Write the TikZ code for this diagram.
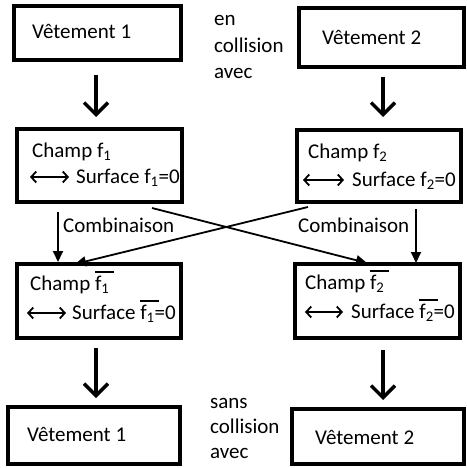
\documentclass[tikz,border=0pt]{standalone}
\usepackage{fontspec}
\setmainfont{Carlito}
\usetikzlibrary{arrows.meta}
\newcommand\fsub[1]{f\textsubscript{#1}}
\newcommand\fbarsub[1]{\makebox[0pt][l]{\rule[17pt]{19pt}{2pt}}f\textsubscript{#1}}
\newcommand\eqz{=0}
\begin{document}
\begin{tikzpicture}[x=1pt,y=-1pt,
 box/.style={draw, line width=4pt, inner sep=0pt},
 txt/.style={anchor=base west, inner sep=0pt, font=\fontsize{21}{25}\selectfont},
 bigarrow/.style={line width=3.5pt, -{Straight Barb[length=12pt,width=24pt]}},
 thinarrow/.style={line width=1.8pt, -{Triangle[length=11pt,width=10pt]}},
 lrarrow/.style={line width=1.8pt, {Straight Barb[length=5pt,width=11pt]}-{Straight Barb[length=5pt,width=11pt]}}]
\useasboundingbox (0,0) rectangle (466,468);
% boxes
\node[box, minimum width=167pt, minimum height=54pt] (A) at (97.5,33) {};
\node[box, minimum width=165pt, minimum height=59pt] (B) at (381.5,37.5) {};
\node[box, minimum width=165pt, minimum height=73pt] (C) at (99.5,165.5) {};
\node[box, minimum width=164pt, minimum height=72pt] (D) at (379,166) {};
\node[box, minimum width=164pt, minimum height=74pt] (E) at (99,301) {};
\node[box, minimum width=165pt, minimum height=74pt] (F) at (377.5,301) {};
\node[box, minimum width=172pt, minimum height=57pt] (G) at (93.5,435.5) {};
\node[box, minimum width=172pt, minimum height=55pt] (H) at (378,436.5) {};
% texts
\node[txt] (tA) at (32,39) {Vêtement 1};
\node[txt] (tB) at (322,45) {Vêtement 2};
\node[txt] (tG) at (27,441) {Vêtement 1};
\node[txt] (tH) at (315,444) {Vêtement 2};
\node[txt] (en1) at (214,26) {en};
\node[txt] (en2) at (214,52.5) {collision};
\node[txt] (en3) at (214,79) {avec};
\node[txt] (sa1) at (210,408) {sans};
\node[txt] (sa2) at (210,433) {collision};
\node[txt] (sa3) at (210,458) {avec};
\node[txt] (cC) at (32,157) {Champ \fsub{1}};
\node[txt] (sC) at (76,183) {Surface \fsub{1}\eqz};
\node[txt] (cD) at (308,158) {Champ \fsub{2}};
\node[txt] (sD) at (352,186) {Surface \fsub{2}\eqz};
\node[txt] (cE) at (30,290) {Champ \fbarsub{1}};
\node[txt] (sE) at (72,319) {Surface \fbarsub{1}\eqz};
\node[txt] (cF) at (305,289) {Champ \fbarsub{2}};
\node[txt] (sF) at (351,318) {Surface \fbarsub{2}\eqz};
\node[txt] (k1) at (63,232) {Combinaison};
\node[txt] (k2) at (298,232) {Combinaison};
% double arrows inside boxes
\coordinate (dC1) at (30,177); \coordinate (dC2) at (69,177);
\coordinate (dD1) at (303,180); \coordinate (dD2) at (344,180);
\coordinate (dE1) at (27,313); \coordinate (dE2) at (66,313);
\coordinate (dF1) at (305,312); \coordinate (dF2) at (343,312);
\draw[lrarrow] (dC1) -- (dC2);
\draw[lrarrow] (dD1) -- (dD2);
\draw[lrarrow] (dE1) -- (dE2);
\draw[lrarrow] (dF1) -- (dF2);
% big arrows
\coordinate (a1) at (96,75);  \coordinate (a2) at (96,117);
\coordinate (b1) at (383,77); \coordinate (b2) at (383,117);
\coordinate (e1) at (96,348); \coordinate (e2) at (96,398);
\coordinate (f1) at (383,350); \coordinate (f2) at (383,400);
\draw[bigarrow] (a1) -- (a2);
\draw[bigarrow] (b1) -- (b2);
\draw[bigarrow] (e1) -- (e2);
\draw[bigarrow] (f1) -- (f2);
% combination arrows
\coordinate (l1) at (58,212); \coordinate (l2) at (58,262);
\coordinate (r1) at (416,209); \coordinate (r2) at (416,263);
\coordinate (x1) at (152,208); \coordinate (x2) at (367,263);
\coordinate (y1) at (308,207); \coordinate (y2) at (75,264);
\draw[thinarrow] (l1) -- (l2);
\draw[thinarrow] (r1) -- (r2);
\draw[thinarrow] (x1) -- (x2);
\draw[thinarrow] (y1) -- (y2);
\end{tikzpicture}
\end{document}
